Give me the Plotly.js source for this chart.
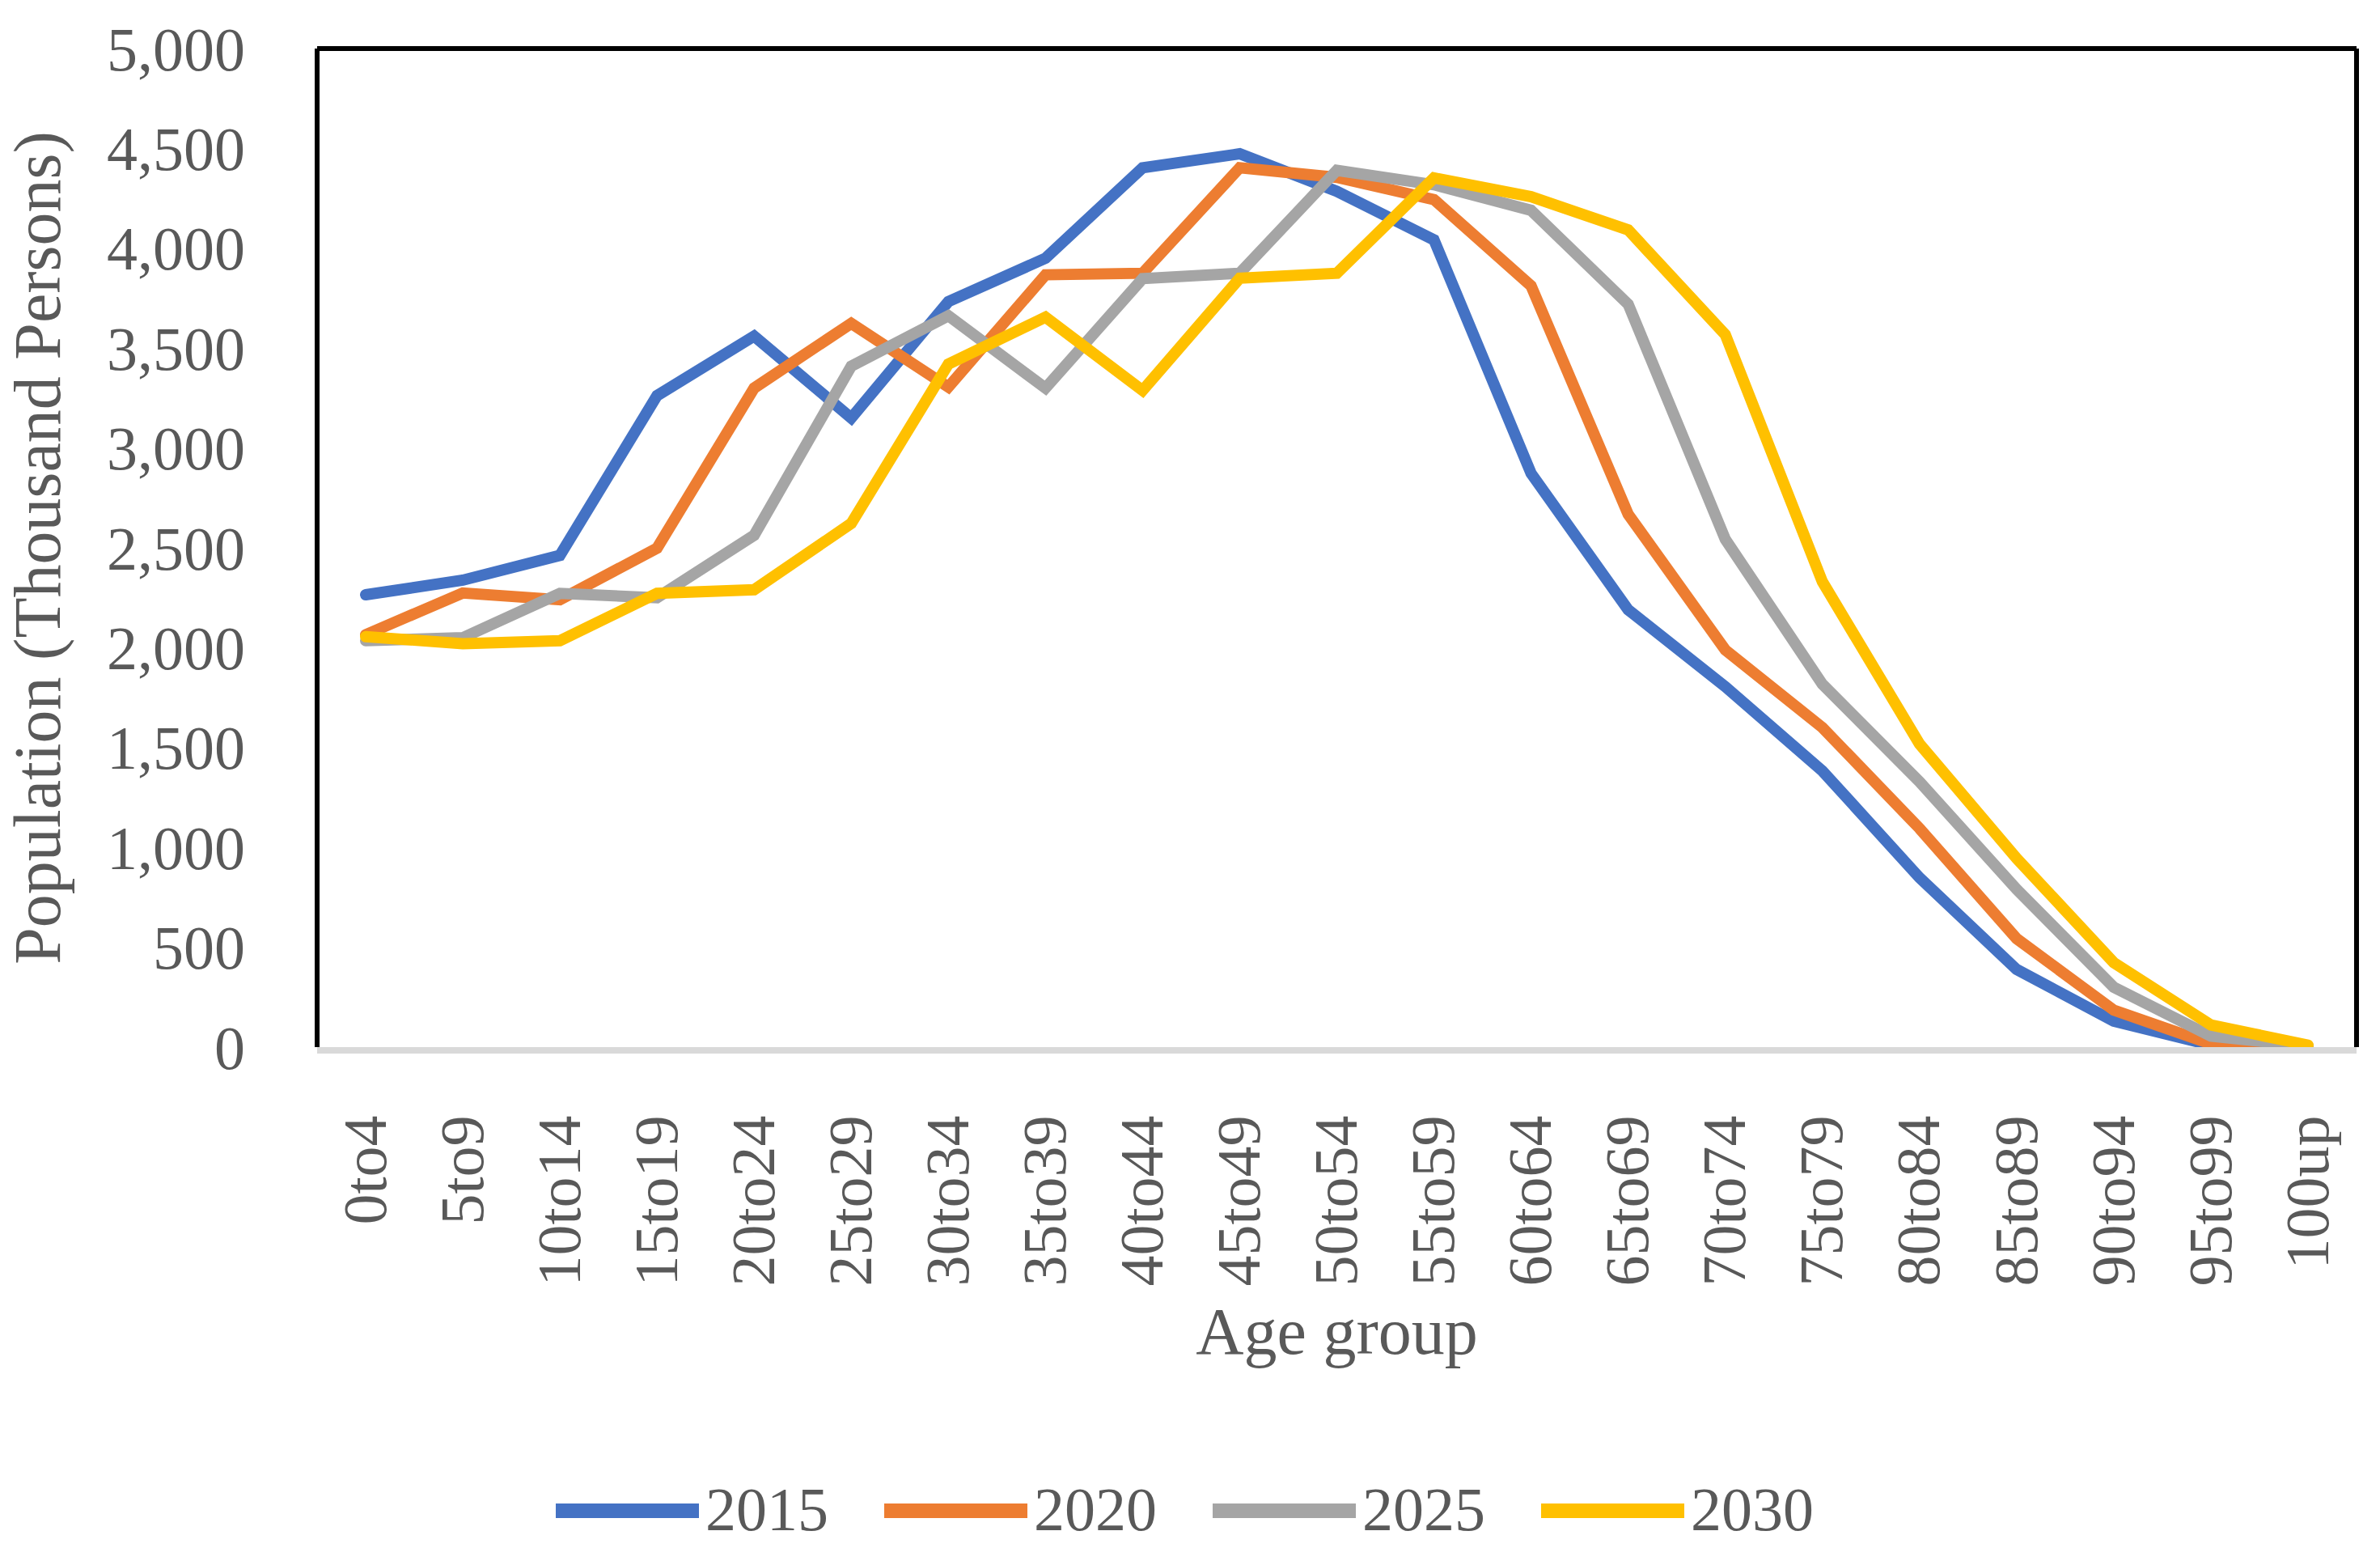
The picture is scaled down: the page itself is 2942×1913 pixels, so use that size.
<!DOCTYPE html>
<html>
<head>
<meta charset="utf-8">
<script src="https://cdn.plot.ly/plotly-3.0.1.min.js"></script>
<style>
html,body{margin:0;padding:0;background:#ffffff;}
.scatterlayer path.js-line{stroke-linecap:round !important;}
</style>
</head>
<body>
<div id="chart" style="width:2942px;height:1913px;"></div>
<script>
const ageGroups = ['0to4','5to9','10to14','15to19','20to24','25to29','30to34','35to39','40to44','45to49',
  '50to54','55to59','60to64','65to69','70to74','75to79','80to84','85to89','90to94','95to99','100up'];
const years = ['2015','2020','2025','2030'];
const pop2015 = [2265, 2338, 2462, 3262, 3560, 3150, 3733, 3950, 4403, 4473, 4285, 4042, 2873, 2190, 1805, 1383, 848, 389, 130, 10, 2];
const pop2020 = [2065, 2274, 2240, 2498, 3300, 3624, 3305, 3867, 3875, 4403, 4355, 4244, 3812, 2668, 1989, 1600, 1095, 543, 185, 16, 3];
const pop2025 = [2035, 2050, 2272, 2250, 2563, 3410, 3662, 3300, 3848, 3875, 4390, 4318, 4190, 3720, 2543, 1817, 1329, 790, 300, 55, 5];
const pop2030 = [2055, 2020, 2035, 2272, 2290, 2622, 3420, 3655, 3288, 3850, 3875, 4352, 4258, 4092, 3568, 2330, 1518, 945, 423, 111, 10];
const seriesValues = [pop2015, pop2020, pop2025, pop2030];
const colors = ['#4472C4', '#ED7D31', '#A5A5A5', '#FFC000'];
const yTickVals = [0, 500, 1000, 1500, 2000, 2500, 3000, 3500, 4000, 4500, 5000];

const W = 2942, H = 1913, L = 392, R = 29, T = 60, B = 619;
const plotW = W - L - R, plotH = H - T - B;
const px2x = px => (px - L) / plotW;
const py2y = py => (H - B - py) / plotH;
const textColor = '#595959';
const fontFam = 'Liberation Serif, Times New Roman, serif';

const traces = years.map((yr, i) => ({
  type: 'scatter',
  mode: 'lines',
  name: yr,
  x: ageGroups,
  y: seriesValues[i],
  line: {color: colors[i], width: 14},
  showlegend: false,
  hoverinfo: 'x+y+name'
}));

const shapes = [
  {type: 'line', xref: 'paper', yref: 'paper', x0: 0, x1: 1, y0: 1, y1: 1, line: {color: '#000000', width: 6}},
  {type: 'line', xref: 'paper', yref: 'paper', x0: 0, x1: 0, y0: 0, y1: 1, line: {color: '#000000', width: 6}},
  {type: 'line', xref: 'paper', yref: 'paper', x0: 1, x1: 1, y0: 0, y1: 1, line: {color: '#000000', width: 6}}
];
const annotations = [];
const legStart = 687, legPitch = 406, legLine = 177, legY = 1867;
years.forEach((yr, i) => {
  const x0 = legStart + i * legPitch;
  shapes.push({type: 'line', xref: 'paper', yref: 'paper',
    x0: px2x(x0), x1: px2x(x0 + legLine), y0: py2y(legY), y1: py2y(legY),
    line: {color: colors[i], width: 18}});
  annotations.push({xref: 'paper', yref: 'paper', x: px2x(x0 + legLine + 6), y: py2y(legY - 2),
    xanchor: 'left', yanchor: 'middle', showarrow: false, text: yr,
    font: {family: fontFam, size: 76, color: textColor}});
});

const layout = {
  width: W, height: H,
  margin: {l: L, r: R, t: T, b: B, pad: 0},
  paper_bgcolor: '#ffffff', plot_bgcolor: '#ffffff',
  showlegend: false,
  font: {family: fontFam, color: textColor, size: 76},
  xaxis: {
    type: 'category',
    range: [-0.5, 20.5],
    tickangle: -90,
    ticks: '',
    showgrid: false, zeroline: false,
    showline: true, linecolor: '#d9d9d9', linewidth: 8,
    layer: 'below traces',
    ticklabelstandoff: 46,
    tickfont: {family: fontFam, size: 76, color: textColor},
    automargin: false,
    title: {text: 'Age group', font: {family: fontFam, size: 82, color: textColor}, standoff: 30}
  },
  yaxis: {
    range: [0, 5000],
    tickvals: yTickVals,
    tickformat: ',d',
    ticks: '',
    showgrid: false, zeroline: false, showline: false,
    ticklabelstandoff: 88,
    tickfont: {family: fontFam, size: 76, color: textColor},
    automargin: false,
    title: {text: 'Population (Thousand Persons)', font: {family: fontFam, size: 82, color: textColor}, standoff: 30}
  },
  shapes: shapes,
  annotations: annotations
};

Plotly.newPlot('chart', traces, layout, {displayModeBar: false, staticPlot: true});
</script>
</body>
</html>
